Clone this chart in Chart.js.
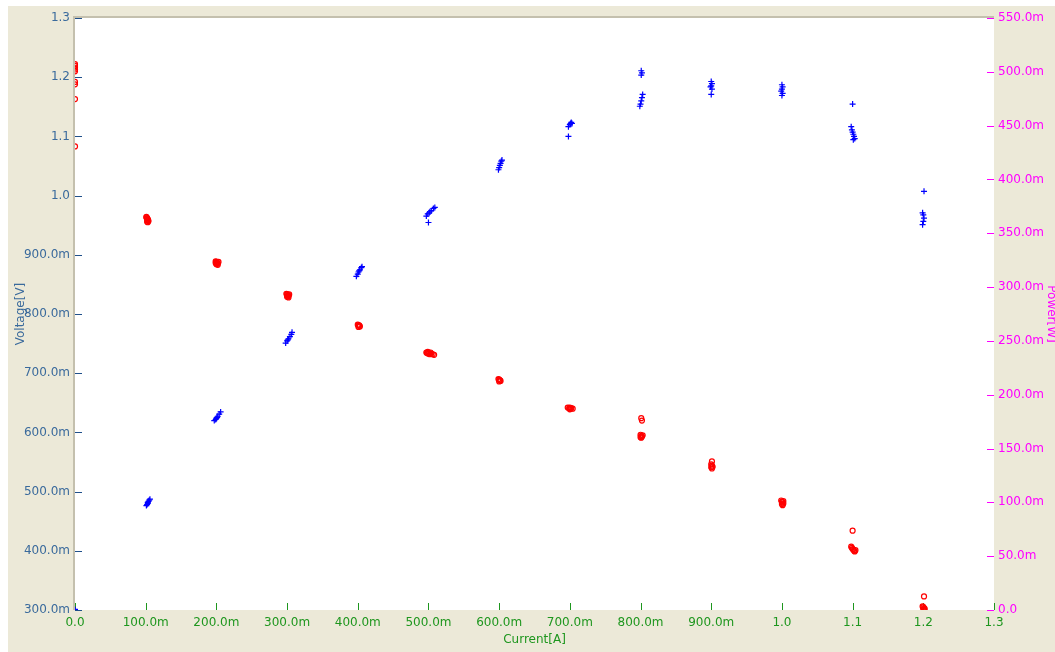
<!DOCTYPE html>
<html>
<head>
<meta charset="utf-8">
<script src="https://cdn.jsdelivr.net/npm/chart.js@4/dist/chart.umd.min.js"></script>
<style>
  html, body { margin: 0; padding: 0; background: #ffffff; }
  canvas { display: block; }
</style>
</head>
<body>
<canvas id="iv" width="1055" height="652"></canvas>
<script>
// Measured voltage samples: current [A] and terminal voltage [V]
const voltageCurrent = [
  0, 0, 0, 0, 0, 0, 0, 0, 0,
  0.101, 0.102, 0.102, 0.103, 0.103, 0.103, 0.104, 0.102, 0.101, 0.103,
  0.199, 0.200, 0.201, 0.202, 0.203, 0.200, 0.201, 0.202, 0.199,
  0.299, 0.300, 0.301, 0.302, 0.303, 0.300, 0.301, 0.302,
  0.400, 0.401, 0.402, 0.403, 0.401, 0.402,
  0.497, 0.498, 0.499, 0.500, 0.501, 0.502, 0.503, 0.504, 0.506, 0.508,
  0.599, 0.600, 0.601, 0.602, 0.600, 0.601,
  0.697, 0.699, 0.700, 0.701, 0.702, 0.704, 0.700,
  0.801, 0.802, 0.800, 0.801, 0.802, 0.803, 0.801, 0.800,
  0.901, 0.900, 0.901, 0.902, 0.900, 0.901,
  0.999, 1.000, 1.001, 1.002, 1.000, 1.001, 1.002,
  1.100, 1.098, 1.099, 1.100, 1.101, 1.102, 1.103, 1.104,
  1.201, 1.199, 1.200, 1.201, 1.202, 1.200, 1.201
];
const voltageValues = [
  1.222, 1.219, 1.216, 1.213, 1.210, 1.192, 1.188, 1.163, 1.083,
  0.964, 0.962, 0.961, 0.960, 0.959, 0.958, 0.957, 0.956, 0.963, 0.955,
  0.889, 0.888, 0.887, 0.886, 0.888, 0.884, 0.885, 0.883, 0.886,
  0.834, 0.833, 0.832, 0.831, 0.833, 0.829, 0.830, 0.828,
  0.782, 0.781, 0.780, 0.779, 0.778, 0.781,
  0.735, 0.734, 0.736, 0.733, 0.734, 0.732, 0.735, 0.733, 0.732, 0.731,
  0.690, 0.689, 0.688, 0.687, 0.686, 0.688,
  0.642, 0.641, 0.642, 0.640, 0.641, 0.640, 0.639,
  0.624, 0.620, 0.596, 0.594, 0.593, 0.595, 0.591, 0.592,
  0.551, 0.546, 0.544, 0.542, 0.541, 0.539,
  0.485, 0.483, 0.482, 0.480, 0.479, 0.477, 0.484,
  0.434, 0.407, 0.405, 0.403, 0.402, 0.400, 0.399, 0.401,
  0.323, 0.306, 0.305, 0.303, 0.302, 0.301, 0.300
];

// Measured power samples: current [A] and power [W]
const powerCurrent = [
  0, 0,
  0.101, 0.102, 0.103, 0.103, 0.104, 0.105, 0.106,
  0.197, 0.199, 0.200, 0.201, 0.202, 0.204, 0.206,
  0.298, 0.300, 0.301, 0.302, 0.304, 0.306, 0.307,
  0.398, 0.400, 0.401, 0.402, 0.403, 0.405, 0.406,
  0.500, 0.497, 0.499, 0.501, 0.502, 0.504, 0.507, 0.509,
  0.599, 0.600, 0.601, 0.602, 0.603, 0.604,
  0.698, 0.700, 0.701, 0.702, 0.703, 0.698,
  0.801, 0.802, 0.801, 0.799, 0.800, 0.801, 0.802, 0.803,
  0.900, 0.901, 0.900, 0.899, 0.901, 0.900,
  1.000, 1.001, 1.000, 0.999, 1.001, 1.000,
  1.100, 1.098, 1.099, 1.100, 1.101, 1.102, 1.103, 1.101,
  1.201, 1.199, 1.200, 1.201, 1.200, 1.199
];
const powerValues = [
  0, 0.0005,
  0.097, 0.098, 0.099, 0.100, 0.101, 0.102, 0.103,
  0.176, 0.177, 0.178, 0.179, 0.180, 0.182, 0.184,
  0.248, 0.250, 0.251, 0.252, 0.254, 0.256, 0.258,
  0.310, 0.312, 0.314, 0.315, 0.316, 0.318, 0.319,
  0.360, 0.366, 0.368, 0.369, 0.370, 0.371, 0.373, 0.374,
  0.409, 0.411, 0.413, 0.415, 0.417, 0.418,
  0.449, 0.451, 0.452, 0.453, 0.452, 0.440,
  0.497, 0.499, 0.501, 0.468, 0.470, 0.473, 0.476, 0.479,
  0.491, 0.489, 0.487, 0.486, 0.484, 0.479,
  0.488, 0.486, 0.484, 0.482, 0.480, 0.478,
  0.470, 0.449, 0.446, 0.444, 0.442, 0.440, 0.438, 0.437,
  0.389, 0.369, 0.367, 0.364, 0.361, 0.358
];

// Axis ticks and their printed labels
const currentTicks = [0, 0.1, 0.2, 0.3, 0.4, 0.5, 0.6, 0.7, 0.8, 0.9, 1.0, 1.1, 1.2, 1.3];
const currentTickLabels = ['0.0', '100.0m', '200.0m', '300.0m', '400.0m', '500.0m', '600.0m',
  '700.0m', '800.0m', '900.0m', '1.0', '1.1', '1.2', '1.3'];
const voltageTicks = [0.3, 0.4, 0.5, 0.6, 0.7, 0.8, 0.9, 1.0, 1.1, 1.2, 1.3];
const voltageTickLabels = ['300.0m', '400.0m', '500.0m', '600.0m', '700.0m', '800.0m',
  '900.0m', '1.0', '1.1', '1.2', '1.3'];
const powerTicks = [0, 0.05, 0.1, 0.15, 0.2, 0.25, 0.3, 0.35, 0.4, 0.45, 0.5, 0.55];
const powerTickLabels = ['0.0', '50.0m', '100.0m', '150.0m', '200.0m', '250.0m', '300.0m',
  '350.0m', '400.0m', '450.0m', '500.0m', '550.0m'];

const PANEL = '#ECE9D8';
const X_COLOR = '#1E961E';
const V_COLOR = '#3A6A9C';
const P_COLOR = '#FF00FF';
const FONT = { family: 'DejaVu Sans', size: 12 };

const toPoints = (xs, ys) => xs.map((x, i) => ({ x: x, y: ys[i] }));
const fixedTicks = (values) => (scale) => { scale.ticks = values.map(v => ({ value: v })); };

// Panel background, white plot area and its sunken edge
const framePlugin = {
  id: 'frame',
  beforeDraw(chart) {
    const { ctx, chartArea: a, width, height } = chart;
    ctx.save();
    ctx.fillStyle = '#ffffff';
    ctx.fillRect(0, 0, width, height);
    ctx.fillStyle = PANEL;
    ctx.fillRect(8, 6, width - 8, height - 6);
    ctx.fillStyle = '#ffffff';
    ctx.fillRect(a.left, a.top, a.right - a.left, a.bottom - a.top);
    ctx.strokeStyle = '#C4C0AE';
    ctx.lineWidth = 2;
    ctx.beginPath();
    ctx.moveTo(a.left - 1, a.bottom);
    ctx.lineTo(a.left - 1, a.top - 1);
    ctx.lineTo(a.right, a.top - 1);
    ctx.stroke();
    ctx.restore();
  },
  // short tick marks drawn inward from each axis line
  beforeDatasetsDraw(chart) {
    const { ctx, chartArea: a, scales } = chart;
    ctx.save();
    ctx.lineWidth = 1;
    ctx.strokeStyle = X_COLOR;
    scales.x.ticks.forEach(t => {
      const px = Math.round(scales.x.getPixelForValue(t.value)) + 0.5;
      ctx.beginPath(); ctx.moveTo(px, a.bottom); ctx.lineTo(px, a.bottom - 7); ctx.stroke();
    });
    ctx.strokeStyle = '#1F4F8A';
    scales.y.ticks.forEach(t => {
      const py = Math.round(scales.y.getPixelForValue(t.value)) + 0.5;
      ctx.beginPath(); ctx.moveTo(a.left, py); ctx.lineTo(a.left + 7, py); ctx.stroke();
    });
    ctx.strokeStyle = P_COLOR;
    scales.y1.ticks.forEach(t => {
      const py = Math.round(scales.y1.getPixelForValue(t.value)) + 0.5;
      ctx.beginPath(); ctx.moveTo(a.right, py); ctx.lineTo(a.right - 7, py); ctx.stroke();
    });
    ctx.restore();
  }
};

new Chart(document.getElementById('iv'), {
  type: 'scatter',
  data: {
    datasets: [
      {
        label: 'Power',
        data: toPoints(powerCurrent, powerValues),
        yAxisID: 'y1',
        pointStyle: 'cross',
        pointRadius: 3,
        pointBorderWidth: 1.2,
        borderColor: '#0000FF',
        backgroundColor: '#0000FF',
        clip: 0
      },
      {
        label: 'Voltage',
        data: toPoints(voltageCurrent, voltageValues),
        yAxisID: 'y',
        pointStyle: 'circle',
        pointRadius: 2.5,
        pointBorderWidth: 1.2,
        borderColor: '#FF0000',
        backgroundColor: 'rgba(255,255,255,0)',
        clip: 0
      }
    ]
  },
  options: {
    responsive: false,
    animation: false,
    devicePixelRatio: 1,
    layout: { padding: { top: 18, left: 0, right: 0, bottom: 0 } },
    plugins: { legend: { display: false }, tooltip: { enabled: false } },
    scales: {
      x: {
        type: 'linear',
        position: 'bottom',
        min: 0,
        max: 1.3,
        afterBuildTicks: fixedTicks(currentTicks),
        afterFit: (s) => { s.height = 42; },
        grid: { display: false, drawTicks: false },
        border: { display: false },
        ticks: {
          color: X_COLOR, font: FONT, padding: 6, maxRotation: 0, autoSkip: false,
          callback: (v, i) => currentTickLabels[i]
        },
        title: { display: true, text: 'Current[A]', color: X_COLOR, font: FONT, padding: { top: 4, bottom: 5 } }
      },
      y: {
        type: 'linear',
        position: 'left',
        min: 0.3,
        max: 1.3,
        afterBuildTicks: fixedTicks(voltageTicks),
        afterFit: (s) => { s.width = 75; },
        grid: { display: false, drawTicks: false },
        border: { display: false },
        ticks: {
          color: V_COLOR, font: FONT, padding: 5, autoSkip: false,
          callback: (v, i) => voltageTickLabels[i]
        },
        title: { display: true, text: 'Voltage[V]', color: V_COLOR, font: FONT, padding: { top: 14, bottom: 0 } }
      },
      y1: {
        type: 'linear',
        position: 'right',
        min: 0,
        max: 0.55,
        afterBuildTicks: fixedTicks(powerTicks),
        afterFit: (s) => { s.width = 61; },
        grid: { display: false, drawTicks: false },
        border: { display: false },
        ticks: {
          color: P_COLOR, font: FONT, padding: 4, autoSkip: false,
          callback: (v, i) => powerTickLabels[i]
        },
        title: { display: true, text: 'Power[W]', color: P_COLOR, font: FONT, padding: { top: -3.5, bottom: 0 } }
      }
    }
  },
  plugins: [framePlugin]
});
</script>
</body>
</html>
